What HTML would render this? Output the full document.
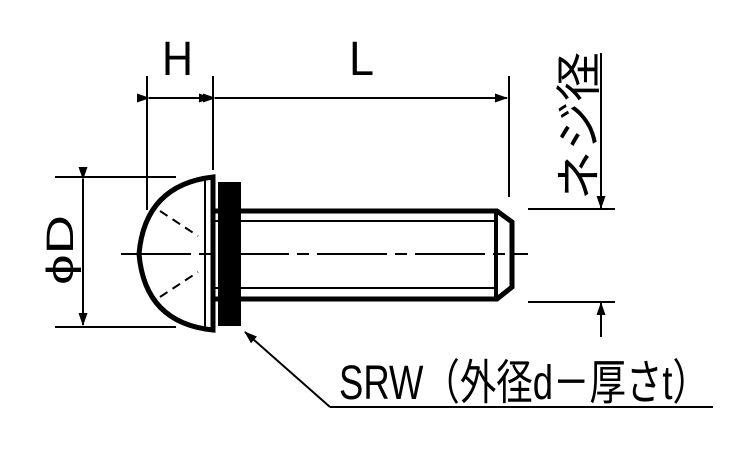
<!DOCTYPE html>
<html><head><meta charset="utf-8"><style>html,body{margin:0;padding:0;background:#fff}svg{display:block}</style></head><body>
<svg width="750" height="450" viewBox="0 0 750 450" xmlns="http://www.w3.org/2000/svg">
<defs>
<marker id="a" markerWidth="13" markerHeight="9" refX="12" refY="4.5" orient="auto" markerUnits="userSpaceOnUse"><path d="M0,0 L13,4.5 L0,9 Z" fill="#000"/></marker>
</defs>
<g stroke="#000" fill="none">
<line x1="147" y1="76" x2="147" y2="210" stroke-width="2"/>
<line x1="213" y1="76" x2="213" y2="170" stroke-width="2"/>
<line x1="509" y1="76" x2="509" y2="197" stroke-width="2"/>
<line x1="149" y1="98" x2="211" y2="98" stroke-width="2" marker-start="url(#a)" marker-end="url(#a)"/>
<line x1="215" y1="98" x2="507" y2="98" stroke-width="2" marker-start="url(#a)" marker-end="url(#a)"/>
<line x1="55" y1="177" x2="176" y2="177" stroke-width="2"/>
<line x1="55" y1="327" x2="176" y2="327" stroke-width="2"/>
<line x1="83" y1="179" x2="83" y2="325" stroke-width="2" marker-start="url(#a)" marker-end="url(#a)"/>
<line x1="528" y1="209" x2="615" y2="209" stroke-width="2"/>
<line x1="528" y1="302" x2="615" y2="302" stroke-width="2"/>
<line x1="601" y1="53" x2="601" y2="208" stroke-width="2" marker-end="url(#a)"/>
<line x1="601" y1="337" x2="601" y2="303" stroke-width="2" marker-end="url(#a)"/>
<line x1="121" y1="254" x2="528" y2="254" stroke-width="2" stroke-dasharray="70,8,12,8"/>
<path d="M213,177 Q145,185 139,254 Q145,323 213,330 Z" stroke-width="5"/>
<line x1="205" y1="180" x2="205" y2="327" stroke-width="2"/>
<line x1="160" y1="211" x2="198" y2="236" stroke-width="2" stroke-dasharray="9,6"/>
<line x1="160" y1="297" x2="198" y2="272" stroke-width="2" stroke-dasharray="9,6"/>
<path d="M213,211 H497 L512,222 V287 L497,299 H213" stroke-width="5"/>
<line x1="213" y1="221" x2="495" y2="221" stroke-width="2"/>
<line x1="213" y1="288" x2="495" y2="288" stroke-width="2"/>
<line x1="496" y1="211" x2="496" y2="299" stroke-width="4"/>
<polyline points="330,407 713,407" stroke-width="2"/>
<line x1="330" y1="407" x2="245" y2="332" stroke-width="2" marker-end="url(#a)"/>
</g>
<rect x="218" y="182" width="23" height="144" fill="#000"/>
<g font-family="'Liberation Sans','Noto Sans CJK JP',sans-serif" fill="#000">
<text x="162" y="75" font-size="48" textLength="31" lengthAdjust="spacingAndGlyphs">H</text>
<text x="349" y="75" font-size="48" textLength="25" lengthAdjust="spacingAndGlyphs">L</text>
<text transform="translate(73,285) rotate(-90)" font-size="38" textLength="70" lengthAdjust="spacingAndGlyphs">ϕD</text>
<text transform="translate(595,200) rotate(-90)" font-size="46" textLength="148" lengthAdjust="spacingAndGlyphs">ネジ径</text>
<text x="339" y="399" font-size="48" textLength="370" lengthAdjust="spacingAndGlyphs">SRW（外径d－厚さt）</text>
</g>
</svg>
</body></html>
